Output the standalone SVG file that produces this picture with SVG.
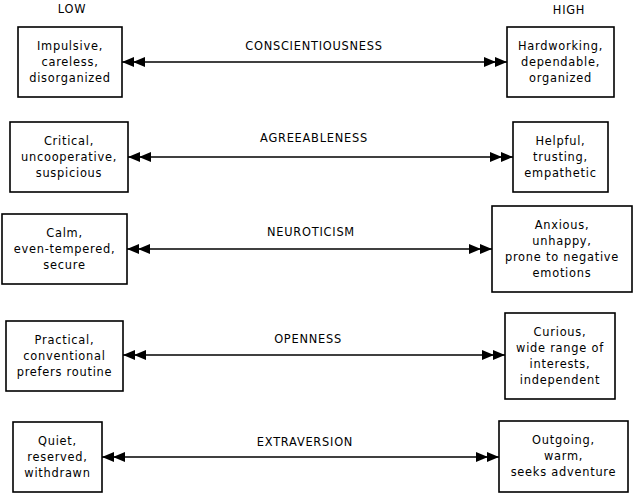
<svg xmlns="http://www.w3.org/2000/svg" width="634" height="493" viewBox="0 0 634 493">
<style>
rect.box{fill:#fff;stroke:#000;stroke-width:1.6}
text{font-family:"DejaVu Sans","Liberation Sans",sans-serif;fill:#000;text-anchor:middle;letter-spacing:0.75px}
.t{font-size:11.4px}
.h{font-size:11.4px}
.c{stroke:#000;stroke-width:1.6;fill:none;marker-start:url(#dbl);marker-end:url(#dbl)}
</style>
<defs>
<marker id="dbl" markerUnits="userSpaceOnUse" markerWidth="24" markerHeight="12" refX="23" refY="6" orient="auto-start-reverse" viewBox="0 0 24 12">
<path d="M0,1 L12,6 L0,11 Z M11,1 L23,6 L11,11 Z" fill="#000"/>
</marker>
</defs>
<text class="h" x="72" y="13">LOW</text>
<text class="h" x="569" y="14">HIGH</text>
<g id="connectors">
<line class="c" x1="122" y1="62" x2="507" y2="62"/>
<line class="c" x1="128" y1="157" x2="513" y2="157"/>
<line class="c" x1="127" y1="249" x2="492" y2="249"/>
<line class="c" x1="123" y1="355" x2="505" y2="355"/>
<line class="c" x1="102" y1="457" x2="499" y2="457"/>
<text class="h" x="314" y="50">CONSCIENTIOUSNESS</text>
<text class="h" x="314" y="142">AGREEABLENESS</text>
<text class="h" x="311" y="236">NEUROTICISM</text>
<text class="h" x="308" y="343">OPENNESS</text>
<text class="h" x="305" y="446">EXTRAVERSION</text>
</g>
<g id="c-low">
<rect class="box" x="18" y="27" width="104" height="70"/>
<text class="t" x="70" y="50">Impulsive,</text>
<text class="t" x="70" y="66">careless,</text>
<text class="t" x="70" y="82">disorganized</text>
</g>
<g id="c-high">
<rect class="box" x="507" y="27" width="107" height="70"/>
<text class="t" x="560.5" y="50">Hardworking,</text>
<text class="t" x="560.5" y="66">dependable,</text>
<text class="t" x="560.5" y="82">organized</text>
</g>
<g id="a-low">
<rect class="box" x="10" y="122" width="118" height="70"/>
<text class="t" x="69" y="145">Critical,</text>
<text class="t" x="69" y="161">uncooperative,</text>
<text class="t" x="69" y="177">suspicious</text>
</g>
<g id="a-high">
<rect class="box" x="513" y="122" width="95" height="70"/>
<text class="t" x="560.5" y="145">Helpful,</text>
<text class="t" x="560.5" y="161">trusting,</text>
<text class="t" x="560.5" y="177">empathetic</text>
</g>
<g id="n-low">
<rect class="box" x="2" y="214" width="125" height="70"/>
<text class="t" x="64.5" y="237">Calm,</text>
<text class="t" x="64.5" y="253">even-tempered,</text>
<text class="t" x="64.5" y="269">secure</text>
</g>
<g id="n-high">
<rect class="box" x="492" y="206" width="140" height="86"/>
<text class="t" x="562" y="229">Anxious,</text>
<text class="t" x="562" y="245">unhappy,</text>
<text class="t" x="562" y="261">prone to negative</text>
<text class="t" x="562" y="277">emotions</text>
</g>
<g id="o-low">
<rect class="box" x="6" y="321" width="117" height="70"/>
<text class="t" x="64.5" y="344">Practical,</text>
<text class="t" x="64.5" y="360">conventional</text>
<text class="t" x="64.5" y="376">prefers routine</text>
</g>
<g id="o-high">
<rect class="box" x="505" y="313" width="110" height="86"/>
<text class="t" x="560" y="336">Curious,</text>
<text class="t" x="560" y="352">wide range of</text>
<text class="t" x="560" y="368">interests,</text>
<text class="t" x="560" y="384">independent</text>
</g>
<g id="e-low">
<rect class="box" x="13" y="422" width="89" height="70"/>
<text class="t" x="57.5" y="445">Quiet,</text>
<text class="t" x="57.5" y="461">reserved,</text>
<text class="t" x="57.5" y="477">withdrawn</text>
</g>
<g id="e-high">
<rect class="box" x="499" y="421" width="129" height="71"/>
<text class="t" x="563.5" y="444">Outgoing,</text>
<text class="t" x="563.5" y="460">warm,</text>
<text class="t" x="563.5" y="476">seeks adventure</text>
</g>
</svg>
